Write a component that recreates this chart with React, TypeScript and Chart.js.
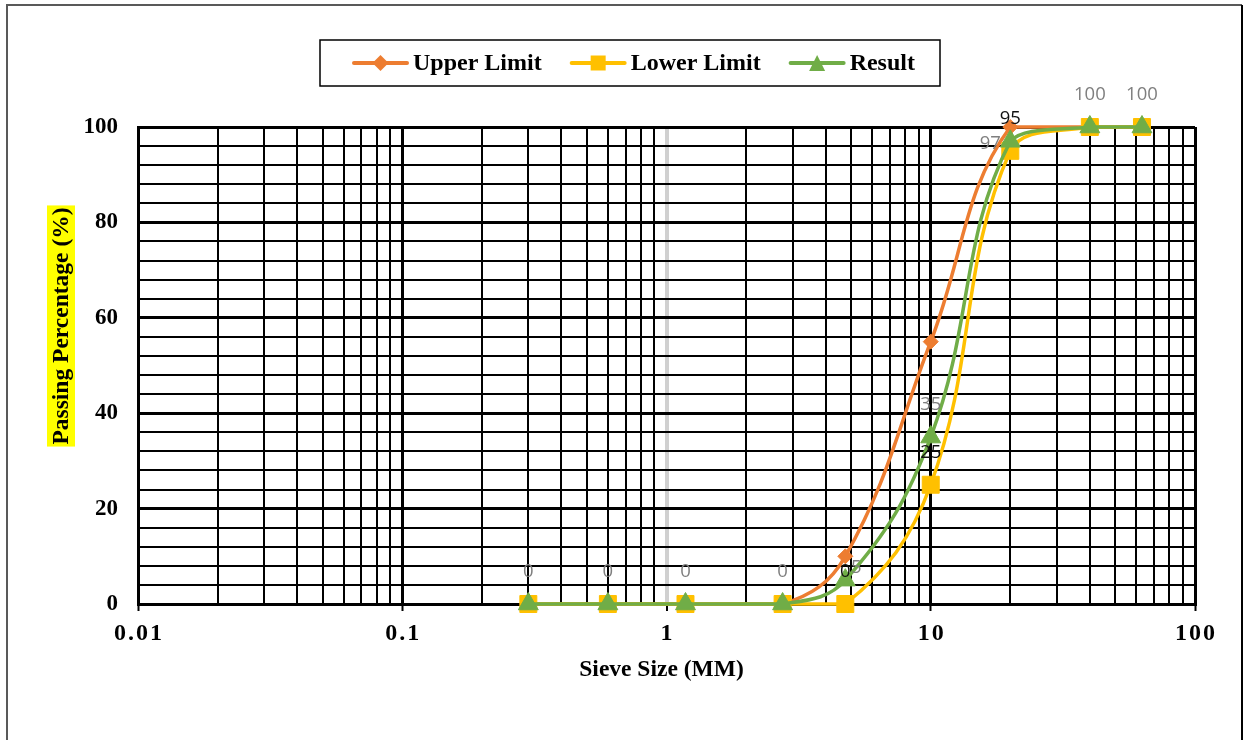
import { useEffect, useRef } from 'react';
import { Chart, registerables } from 'chart.js';

Chart.register(...registerables);

// Sieve analysis: grading envelope and measured result
const sieveSizes = [0.3, 0.6, 1.18, 2.75, 4.75, 10, 20, 40, 63];
const upperLimit = [0, 0, 0, 0, 10, 55, 100, 100, 100];
const lowerLimit = [0, 0, 0, 0, 0, 25, 95, 100, 100];
const result = [0, 0, 0, 0, 5, 35, 97, 100, 100];

const seriesNames = ['Upper Limit', 'Lower Limit', 'Result'];
const xTickLabels = ['0.01', '0.1', '1', '10', '100'];
const yTickLabels = ['0', '20', '40', '60', '80', '100'];

const xTitle = 'Sieve Size (MM)';
const yTitle = 'Passing Percentage (%)';

// value labels: which points carry a label
const resultLabelIdx = [0, 1, 2, 3, 4, 5, 6, 7, 8];
const lowerLabelIdx = [4, 5, 6];

const ORANGE = '#ED7D31';
const YELLOW = '#FFC000';
const GREEN = '#70AD47';
const SERIF = '"Liberation Serif", "Times New Roman", serif';
const LABEL_FONT = '18.5px "Open Sans", "Liberation Sans", sans-serif';

// label offsets relative to the point (default: above)
const resultLabelShift: Record<number, [number, number]> = {
  4: [11, -12],
  6: [-20, 2],
};

function drawMarker(ctx: CanvasRenderingContext2D, kind: string, x: number, y: number, s: number, color: string) {
  ctx.save();
  ctx.fillStyle = color;
  ctx.beginPath();
  if (kind === 'rectRot') {
    ctx.moveTo(x, y - s / 2);
    ctx.lineTo(x + s / 2, y);
    ctx.lineTo(x, y + s / 2);
    ctx.lineTo(x - s / 2, y);
  } else if (kind === 'rect') {
    ctx.rect(x - s / 2, y - s / 2, s, s);
  } else {
    ctx.moveTo(x, y - s / 2);
    ctx.lineTo(x + s / 2, y + s / 2);
    ctx.lineTo(x - s / 2, y + s / 2);
  }
  ctx.closePath();
  ctx.fill();
  ctx.restore();
}

const decorPlugin = {
  id: 'decor',
  beforeDraw(chart: any) {
    const ctx: CanvasRenderingContext2D = chart.ctx;
    ctx.save();
    ctx.lineWidth = 2;
    ctx.strokeStyle = '#595959';
    ctx.beginPath();
    ctx.moveTo(7, 745);
    ctx.lineTo(7, 5);
    ctx.lineTo(1242, 5);
    ctx.stroke();
    ctx.strokeStyle = '#000';
    ctx.beginPath();
    ctx.moveTo(1242, 5);
    ctx.lineTo(1242, 745);
    ctx.stroke();
    ctx.restore();
  },
  afterDatasetsDraw(chart: any) {
    const ctx: CanvasRenderingContext2D = chart.ctx;
    ctx.save();
    ctx.font = LABEL_FONT;
    ctx.textAlign = 'center';
    ctx.textBaseline = 'middle';
    // Lower Limit labels (black)
    const lowMeta = chart.getDatasetMeta(1);
    ctx.fillStyle = '#111';
    lowerLabelIdx.forEach((i) => {
      const p = lowMeta.data[i];
      ctx.fillText(String(lowerLimit[i]), p.x, p.y - 32);
    });
    // Result labels (grey)
    const resMeta = chart.getDatasetMeta(2);
    ctx.fillStyle = '#7F7F7F';
    resultLabelIdx.forEach((i) => {
      const p = resMeta.data[i];
      const [dx, dy] = resultLabelShift[i] || [0, -32];
      ctx.fillText(String(result[i]), p.x + dx, p.y + dy);
    });
    ctx.restore();
  },
  afterDraw(chart: any) {
    const ctx: CanvasRenderingContext2D = chart.ctx;
    const area = chart.chartArea;
    const xScale = chart.scales.x;
    ctx.save();

    // x tick labels
    ctx.fillStyle = '#000';
    ctx.font = `bold 24px ${SERIF}`;
    ctx.textAlign = 'center';
    ctx.textBaseline = 'middle';
    (ctx as any).letterSpacing = '2px';
    xTickLabels.forEach((t) => {
      const px = xScale.getPixelForValue(Number(t));
      ctx.fillText(t, px + 1, area.bottom + 30);
    });
    (ctx as any).letterSpacing = '0px';

    // x title
    ctx.font = `bold 23.5px ${SERIF}`;
    ctx.fillText(xTitle, (area.left + area.right) / 2 - 5, area.bottom + 66);

    // y title with highlight
    ctx.save();
    ctx.translate(61, 326);
    ctx.rotate(-Math.PI / 2);
    const tw = ctx.measureText(yTitle).width;
    ctx.fillStyle = '#FFFF00';
    ctx.fillRect(-tw / 2 - 2, -14, tw + 4, 28);
    ctx.fillStyle = '#000';
    ctx.fillText(yTitle, 0, 1);
    ctx.restore();

    // legend
    const top = 40;
    const h = 46;
    ctx.strokeStyle = '#000';
    ctx.lineWidth = 1.5;
    ctx.strokeRect(320, top, 620, h);
    const cy = top + h / 2;
    let x = 354;
    const colors = [ORANGE, YELLOW, GREEN];
    const kinds = ['rectRot', 'rect', 'triangle'];
    const sizes = [16, 15, 16];
    ctx.font = `bold 24px ${SERIF}`;
    ctx.textAlign = 'left';
    seriesNames.forEach((name, i) => {
      ctx.strokeStyle = colors[i];
      ctx.lineWidth = 4;
      ctx.lineCap = 'round';
      ctx.beginPath();
      ctx.moveTo(x, cy);
      ctx.lineTo(x + 53, cy);
      ctx.stroke();
      drawMarker(ctx, kinds[i], x + 26.5, cy, sizes[i], colors[i]);
      ctx.fillStyle = '#000';
      ctx.fillText(name, x + 59, cy + 1);
      x += 59 + ctx.measureText(name).width + 30;
    });
    ctx.restore();
  },
};

function xTicks() {
  const out: number[] = [];
  for (let e = -2; e <= 1; e++) {
    for (let k = 1; k <= 9; k++) out.push(Number((k * Math.pow(10, e)).toPrecision(6)));
  }
  out.push(100);
  return out;
}

export default function App() {
  const ref = useRef<HTMLCanvasElement | null>(null);

  useEffect(() => {
    if (!ref.current) return;
    const pts = (vals: number[]) => sieveSizes.map((s, i) => ({ x: s, y: vals[i] }));
    const common = {
      borderWidth: 3.5,
      tension: 0.4,
      cubicInterpolationMode: 'default' as const,
      pointBorderWidth: 1,
      clip: false as const,
      borderCapStyle: 'round' as const,
    };
    const chart = new Chart(ref.current, {
      type: 'line',
      data: {
        datasets: [
          {
            ...common,
            label: seriesNames[0],
            data: pts(upperLimit),
            borderColor: ORANGE,
            backgroundColor: ORANGE,
            pointBorderColor: ORANGE,
            pointStyle: 'rectRot',
            pointRadius: 7.5,
            order: 3,
          },
          {
            ...common,
            label: seriesNames[1],
            data: pts(lowerLimit),
            borderColor: YELLOW,
            backgroundColor: YELLOW,
            pointBorderColor: YELLOW,
            pointStyle: 'rect',
            pointRadius: 12,
            order: 2,
          },
          {
            ...common,
            label: seriesNames[2],
            data: pts(result),
            borderColor: GREEN,
            backgroundColor: GREEN,
            pointBorderColor: GREEN,
            pointStyle: 'triangle',
            pointRadius: 11.5,
            order: 1,
          },
        ],
      },
      options: {
        responsive: false,
        animation: false,
        devicePixelRatio: 1,
        events: [],
        layout: { padding: { top: 127, right: 49, left: 0, bottom: 0 } },
        plugins: {
          legend: { display: false },
          tooltip: { enabled: false },
          title: { display: false },
        },
        scales: {
          x: {
            type: 'logarithmic',
            min: 0.01,
            max: 100,
            afterBuildTicks: (s: any) => {
              s.ticks = xTicks().map((v) => ({ value: v }));
            },
            afterFit: (s: any) => {
              s.height = 136;
            },
            ticks: { display: false, autoSkip: false },
            grid: {
              color: (c: any) => (c.index === 18 ? '#D0D0D0' : '#000'),
              lineWidth: (c: any) => (c.index === 18 ? 4 : c.index % 9 === 0 ? 3 : 2),
              drawTicks: true,
              tickLength: 7,
              tickWidth: 2,
              tickColor: (c: any) => (c.index % 9 === 0 ? '#000' : 'rgba(0,0,0,0)'),
            },
            border: { display: true, color: '#000', width: 3 },
          },
          y: {
            type: 'linear',
            min: 0,
            max: 100,
            afterBuildTicks: (s: any) => {
              const t = [];
              for (let v = 0; v <= 100; v += 4) t.push({ value: v });
              s.ticks = t;
            },
            afterFit: (s: any) => {
              s.width = 138;
            },
            ticks: {
              autoSkip: false,
              padding: 20,
              color: '#000',
              font: { family: SERIF, weight: 'bold', size: 23 },
              callback: (v: any) => (yTickLabels.includes(String(v)) ? String(v) : ''),
            },
            grid: {
              color: '#000',
              lineWidth: (c: any) => (c.tick && c.tick.value % 20 === 0 ? 3 : 2),
              drawTicks: false,
            },
            border: { display: true, color: '#000', width: 3 },
          },
        },
      },
      plugins: [decorPlugin],
    });
    return () => chart.destroy();
  }, []);

  return (
    <div style={{ position: 'absolute', left: 0, top: 0, width: 1244, height: 740, background: '#fff' }}>
      <canvas ref={ref} width={1244} height={740} style={{ display: 'block' }} />
    </div>
  );
}
